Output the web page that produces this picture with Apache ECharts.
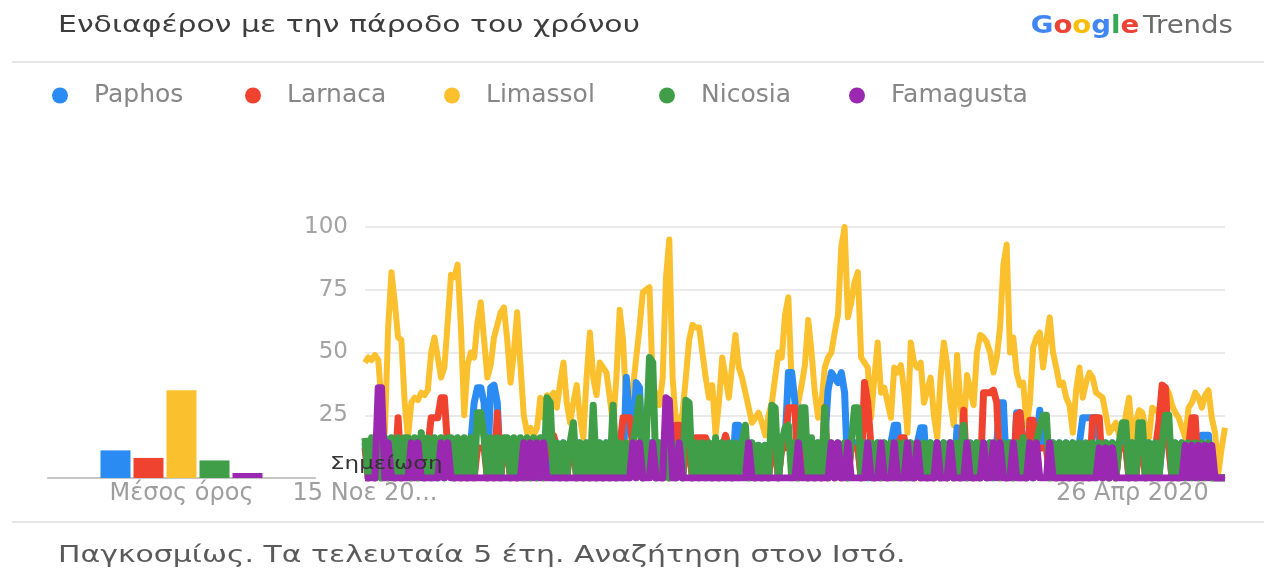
<!DOCTYPE html>
<html>
<head>
<meta charset="utf-8">
<script src="https://cdn.jsdelivr.net/npm/echarts/dist/echarts.min.js"></script>
<style>
  html, body { margin: 0; padding: 0; background: #fff; }
  #chart { width: 1264px; height: 570px; }
</style>
</head>
<body>
<div id="chart"></div>
<script>
// series names and colours (legend order)
const names = ['Paphos', 'Larnaca', 'Limassol', 'Nicosia', 'Famagusta'];
const colors = ['#2a8cf2', '#f0432f', '#fbc02d', '#3f9e47', '#9a28b0'];

// average bars ("Μέσος όρος")
const averages = [11, 8, 35, 7, 2];

// weekly values, 15 Nov 2015 onward (261 weeks)
const paphos = [
  14,0,14,0,14,0,14,0,14,0,
  14,0,14,14,0,14,0,14,0,14,
  0,14,0,14,0,14,14,0,14,0,
  14,0,14,30,36,36,30,0,36,37,
  30,0,14,14,0,14,0,14,0,14,
  0,14,0,14,0,14,14,0,14,0,
  14,0,14,14,0,14,0,14,0,14,
  0,14,0,14,0,14,0,14,0,40,
  24,14,38,36,0,14,14,14,0,14,
  0,14,0,14,0,14,0,14,14,0,
  14,0,14,0,14,0,14,0,14,0,
  14,0,21,21,14,14,0,14,0,13,
  0,13,0,14,14,0,14,14,42,42,
  30,0,14,14,0,14,0,14,0,14,
  35,42,40,38,42,34,0,14,14,14,
  0,14,0,14,0,14,0,14,0,14,
  21,21,0,14,0,14,0,14,20,20,
  0,14,0,14,0,14,0,14,0,20,
  0,14,0,14,0,14,0,14,0,14,
  0,14,30,30,0,14,0,26,26,14,
  0,14,0,14,27,14,14,0,14,0,
  14,0,14,0,14,0,14,24,24,24,
  24,24,14,0,14,0,14,0,14,14,
  14,0,14,0,14,14,0,14,0,14,
  0,14,14,14,0,14,0,14,0,14,
  0,14,0,17,17,17,0,0,0,0,
  0
];
const larnaca = [
  12,0,12,0,12,0,12,0,12,0,
  24,0,12,12,0,12,0,12,0,12,
  24,24,24,32,32,12,12,0,12,0,
  12,0,12,0,12,12,12,0,12,0,
  26,0,12,12,0,12,0,12,0,12,
  0,12,0,12,0,12,12,17,12,0,
  12,0,12,12,0,12,0,12,0,12,
  0,12,0,12,0,12,0,12,24,24,
  24,12,12,12,0,12,12,12,0,12,
  0,12,0,12,21,21,0,12,12,0,
  16,16,16,16,12,0,12,0,12,17,
  12,0,12,12,12,12,0,12,0,12,
  0,12,0,12,12,0,12,12,28,28,
  28,0,12,12,0,12,0,12,0,28,
  0,12,0,12,0,12,0,12,12,12,
  0,38,30,12,0,12,0,12,0,12,
  0,12,16,16,0,12,0,12,0,12,
  0,12,0,12,0,12,0,12,0,12,
  0,27,0,12,0,12,0,34,34,34,
  35,30,0,12,0,12,0,25,26,12,
  0,23,23,12,12,12,12,0,12,0,
  12,0,12,0,12,0,12,0,12,0,
  24,24,24,0,12,0,12,0,12,12,
  12,0,12,0,12,12,0,12,0,12,
  22,37,36,12,0,12,0,12,0,12,
  24,24,0,12,0,12,0,0,0,0,
  0
];
const limassol = [
  46,48,47,49,47,30,18,60,82,70,
  56,55,30,16,30,32,31,34,33,35,
  50,56,48,40,44,62,81,80,85,60,
  25,45,50,48,62,70,55,40,45,56,
  61,66,68,55,38,50,66,45,25,18,
  20,17,20,32,24,33,32,34,28,38,
  46,30,22,30,37,24,16,40,58,40,
  33,46,44,42,32,21,40,67,55,29,
  24,36,48,60,74,75,76,37,33,29,
  40,80,95,40,22,22,26,40,55,61,
  60,60,50,40,32,37,17,30,48,40,
  32,45,57,44,40,34,28,22,24,26,
  22,17,25,30,40,50,48,65,72,37,
  32,30,37,45,63,50,34,24,30,44,
  48,50,58,65,92,100,64,70,78,82,
  48,46,44,24,40,54,34,36,30,24,
  44,42,45,35,18,54,46,44,46,30,
  35,40,25,16,40,54,45,30,21,49,
  30,18,41,35,29,50,57,56,54,50,
  42,48,60,85,93,50,56,42,37,38,
  21,30,52,56,58,44,55,64,50,44,
  37,38,32,29,18,35,44,32,38,42,
  40,34,33,32,25,18,20,22,17,14,
  25,32,16,22,27,26,20,16,28,27,
  26,32,36,34,29,26,24,20,16,28,
  30,34,32,28,33,35,24,18,2,12,
  20
];
const nicosia = [
  16,0,16,0,16,0,16,0,16,0,
  16,0,16,16,0,16,0,18,0,16,
  0,16,0,16,0,16,16,0,16,0,
  16,0,16,0,26,26,16,0,16,0,
  16,0,16,16,0,16,0,16,0,16,
  0,16,0,16,0,32,30,0,14,0,
  14,0,14,22,0,14,0,14,0,29,
  0,14,0,14,0,29,0,14,0,14,
  0,14,22,32,0,14,48,46,0,14,
  0,14,0,14,0,14,0,31,30,0,
  14,0,14,0,14,0,16,0,14,0,
  14,0,14,0,14,21,0,14,0,13,
  0,13,0,29,28,0,14,20,21,0,
  14,0,28,28,0,16,0,14,0,28,
  0,14,0,14,0,14,0,14,28,28,
  0,14,0,14,0,14,0,14,0,14,
  0,14,0,14,0,14,0,14,0,14,
  0,14,0,14,0,14,0,14,0,14,
  0,21,0,14,0,14,0,14,0,14,
  0,14,0,14,0,14,0,14,0,16,
  0,14,0,14,20,25,25,0,14,0,
  14,0,14,0,14,0,14,0,14,0,
  14,0,14,0,14,0,14,0,14,22,
  22,0,14,0,22,22,0,14,0,14,
  0,14,25,25,0,14,0,14,0,14,
  0,14,0,14,0,14,0,0,0,0,
  0
];
const famagusta = [
  0,0,0,0,36,36,0,14,0,0,
  0,0,0,0,14,0,14,0,0,0,
  0,0,0,14,0,14,0,0,0,0,
  0,0,0,0,0,0,0,0,0,0,
  0,0,0,0,0,0,0,0,14,0,
  14,0,14,0,14,0,0,0,0,0,
  0,0,0,0,0,0,0,0,0,0,
  0,0,0,0,0,0,0,0,0,0,
  0,14,0,14,0,0,0,14,0,0,
  0,32,31,0,0,14,0,0,0,0,
  0,0,0,0,0,0,0,0,0,0,
  0,0,0,0,0,0,14,0,0,0,
  0,0,0,0,0,0,0,0,0,0,
  0,14,0,0,0,0,0,0,0,0,
  0,14,0,14,0,0,14,0,0,0,
  0,0,14,0,0,0,14,0,0,0,
  14,0,0,0,14,0,0,14,0,0,
  0,0,0,14,0,0,0,14,0,0,
  0,0,14,0,0,0,0,14,0,0,
  14,0,14,0,0,0,14,0,0,0,
  0,14,0,14,0,0,0,14,0,0,
  0,0,0,0,0,0,0,0,0,0,
  0,0,12,0,12,0,12,0,0,0,
  0,0,0,0,0,0,0,0,0,0,
  0,0,0,0,0,0,0,0,13,0,
  13,0,13,0,13,0,13,0,0,0,
  0
];
const weekly = [paphos, larnaca, limassol, nicosia, famagusta];
// drawing order: Limassol at the back, Famagusta on top
const drawOrder = [2, 0, 1, 3, 4];

// x tick labels (only two are shown)
const xTickIndex = [0, 232];
const xTickText = ['15 Νοε 20...', '26 Απρ 2020'];
const yTicks = [25, 50, 75, 100];

// week dates as categories
const categories = [];
const start = new Date(Date.UTC(2015, 10, 15));
for (let i = 0; i < paphos.length; i++) {
  const d = new Date(start.getTime() + i * 7 * 86400000);
  categories.push(d.toISOString().slice(0, 10));
}

// left edge of each legend item, as in the reference
const legendLeft = [52, 245, 444, 659, 849];

const font = 'DejaVu Sans';
// the screenshot is stretched sideways, so free texts get the same stretch
const stretch = 1.3;
const chart = echarts.init(document.getElementById('chart'));

const series = [];
names.forEach((n, k) => {
  series.push({
    name: n,
    type: 'bar',
    xAxisIndex: 0,
    yAxisIndex: 0,
    barWidth: 30,
    barGap: '10%',
    itemStyle: { color: colors[k] },
    data: [averages[k]],
  });
});
drawOrder.forEach((k) => {
  series.push({
    name: names[k],
    type: 'line',
    xAxisIndex: 1,
    yAxisIndex: 1,
    symbol: 'none',
    lineStyle: { width: k === 2 ? 6 : 7, color: colors[k], join: 'round' },
    itemStyle: { color: colors[k] },
    data: weekly[k],
  });
});

chart.setOption({
  animation: false,
  color: colors,
  legend: names.map((n, k) => ({
    left: legendLeft[k],
    top: 83,
    padding: 0,
    icon: 'circle',
    itemWidth: 16,
    itemHeight: 16,
    textStyle: { fontFamily: font, fontSize: 25, color: '#878787', padding: [0, 0, 0, 21] },
    data: [n],
  })),
  grid: [
    { left: 48, width: 267, top: 227, bottom: 92 },
    { left: 365, right: 39, top: 227, bottom: 92 },
  ],
  xAxis: [
    {
      gridIndex: 0,
      type: 'category',
      data: ['Μέσος όρος'],
      axisLine: { lineStyle: { color: '#c6c6c6', width: 2 } },
      axisTick: { show: false },
      axisLabel: { fontFamily: font, fontSize: 24, color: '#9e9e9e', margin: 4 },
    },
    {
      gridIndex: 1,
      type: 'category',
      boundaryGap: false,
      data: categories,
      axisLine: { lineStyle: { color: '#c6c6c6', width: 2 } },
      axisTick: { show: false },
      axisLabel: {
        fontFamily: font,
        fontSize: 24,
        color: '#9e9e9e',
        margin: 4,
        interval: (i) => xTickIndex.includes(i),
        formatter: (v, i) => xTickText[xTickIndex.indexOf(i)] || '',
      },
    },
  ],
  yAxis: [
    { gridIndex: 0, type: 'value', min: 0, max: 100, show: false },
    {
      gridIndex: 1,
      type: 'value',
      min: 0,
      max: 100,
      interval: 25,
      axisLine: { show: false },
      axisTick: { show: false },
      axisLabel: {
        fontFamily: font,
        fontSize: 23,
        color: '#a3a3a3',
        margin: 17,
        formatter: (v) => (yTicks.includes(v) ? String(v) : ''),
      },
      splitLine: { lineStyle: { color: '#e3e3e3', width: 1.5 } },
    },
  ],
  graphic: [
    // divider lines
    { type: 'line', shape: { x1: 12, y1: 62, x2: 1264, y2: 62 }, style: { stroke: '#e6e6e6', lineWidth: 2 } },
    { type: 'line', shape: { x1: 12, y1: 522, x2: 1264, y2: 522 }, style: { stroke: '#e6e6e6', lineWidth: 2 } },
    // header
    {
      type: 'text',
      x: 58,
      y: 26,
      scaleX: stretch,
      style: {
        text: 'Ενδιαφέρον με την πάροδο του χρόνου',
        fontFamily: font, fontSize: 23, fill: '#3d3d3d', verticalAlign: 'middle',
      },
    },
    {
      type: 'text',
      x: 1233,
      y: 27,
      scaleX: 1.15,
      style: {
        text: '{b|G}{r|o}{y|o}{b|g}{g|l}{r|e} {t|Trends}',
        align: 'right',
        verticalAlign: 'middle',
        rich: {
          b: { fill: '#4285f4', fontFamily: font, fontSize: 24, fontWeight: 'bold' },
          r: { fill: '#ea4335', fontFamily: font, fontSize: 24, fontWeight: 'bold' },
          y: { fill: '#fbbc05', fontFamily: font, fontSize: 24, fontWeight: 'bold' },
          g: { fill: '#34a853', fontFamily: font, fontSize: 24, fontWeight: 'bold' },
          t: { fill: '#6b6b6b', fontFamily: font, fontSize: 24, fontWeight: 'normal' },
        },
      },
    },
    // footer
    {
      type: 'text',
      x: 58,
      y: 556,
      scaleX: stretch,
      style: {
        text: 'Παγκοσμίως. Τα τελευταία 5 έτη. Αναζήτηση στον Ιστό.',
        fontFamily: font, fontSize: 23, fill: '#5a5a5a', verticalAlign: 'middle',
      },
    },
    // note marker
    {
      type: 'text',
      x: 330,
      y: 464,
      z: 100,
      scaleX: 1.28,
      style: { text: 'Σημείωση', fontFamily: font, fontSize: 18, fill: '#333', verticalAlign: 'middle' },
    },
  ],
  series: series,
});
</script>
</body>
</html>
